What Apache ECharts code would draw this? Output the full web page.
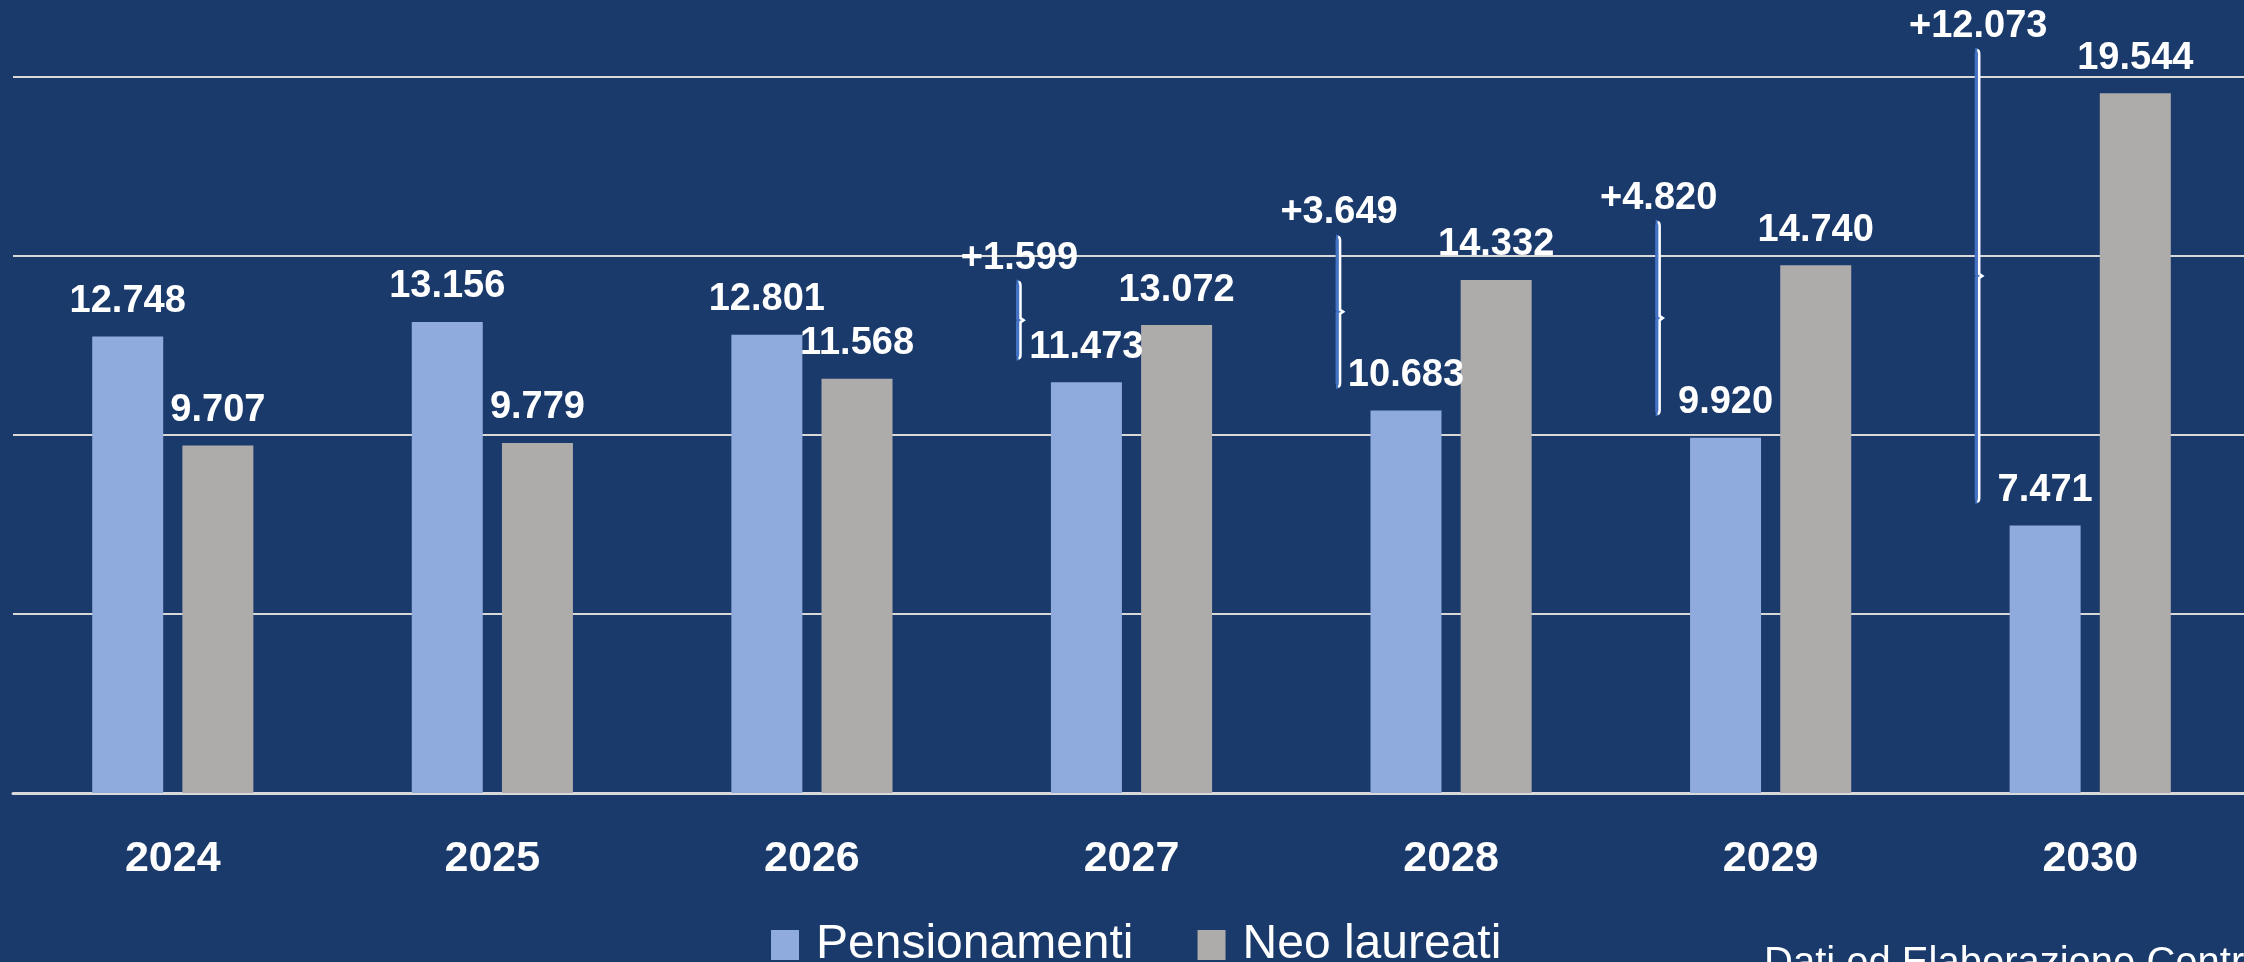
<!DOCTYPE html>
<html>
<head>
<meta charset="utf-8">
<script src="https://cdn.jsdelivr.net/npm/echarts@6/dist/echarts.min.js"></script>
<style>
  html, body { margin: 0; padding: 0; background: #1B3A6C; }
  #chart { width: 2244px; height: 962px; }
</style>
</head>
<body>
<div id="chart"></div>
<script>
const years = ['2024', '2025', '2026', '2027', '2028', '2029', '2030'];
const pensionamenti = [12748, 13156, 12801, 11473, 10683, 9920, 7471];
const neoLaureati = [9707, 9779, 11568, 13072, 14332, 14740, 19544];
// years that get the difference bracket
const bracketYears = ['2027', '2028', '2029', '2030'];
const source = 'Dati ed Elaborazione Centro';

const FONT = '"Liberation Sans", Arial, sans-serif';

function fmt(v) {
  return String(v).replace(/\B(?=(\d{3})+(?!\d))/g, '.');
}

const bracketData = bracketYears.map((y) => {
  const i = years.indexOf(y);
  return [i, pensionamenti[i], neoLaureati[i], neoLaureati[i] - pensionamenti[i]];
});

function renderBracket(params, api) {
  const idx = api.value(0);
  const hi = api.coord([idx, api.value(2)]);
  const lo = api.coord([idx, api.value(1)]);
  const x = hi[0] - 112;
  const top = hi[1] - 43;
  const bot = lo[1] - 24;
  const mid = (top + bot) / 2;
  const d = `M${x - 2},${top} Q${x},${top} ${x},${top + 4} L${x},${mid - 2} L${x + 3},${mid} L${x},${mid + 2} L${x},${bot - 4} Q${x},${bot} ${x - 2},${bot}`;
  return {
    type: 'group',
    children: [
      { type: 'path', shape: { pathData: d }, position: [-1, 0], style: { fill: null, stroke: '#4472C4', lineWidth: 5 } },
      { type: 'path', shape: { pathData: d }, position: [1, 0], style: { fill: null, stroke: '#FFFFFF', lineWidth: 2.5 } },
      {
        type: 'text',
        style: {
          x: x, y: top - 5,
          text: '+' + fmt(api.value(3)),
          align: 'center', verticalAlign: 'bottom',
          fill: '#FFFFFF', font: `bold 38px ${FONT}`,
        },
      },
    ],
  };
}

const barLabel = {
  show: true,
  position: 'top',
  distance: 16,
  color: '#FFFFFF',
  fontSize: 38,
  fontWeight: 'bold',
  fontFamily: FONT,
  formatter: (p) => fmt(p.value),
};

const chart = echarts.init(document.getElementById('chart'));
chart.setOption({
  backgroundColor: '#1B3A6C',
  animation: false,
  grid: { left: 13, right: -6, top: 77, bottom: 169, containLabel: false, outerBoundsMode: 'none' },
  legend: {
    data: ['Pensionamenti', 'Neo laureati'],
    left: 766,
    top: 916,
    icon: 'rect',
    itemWidth: 28,
    itemHeight: 30,
    itemGap: 64,
    textStyle: { color: '#FFFFFF', fontSize: 48, fontFamily: FONT, padding: [0, 0, 0, 12] },
  },
  xAxis: {
    type: 'category',
    data: years,
    axisLine: { lineStyle: { color: '#D9D9D9', width: 3 } },
    axisTick: { show: false },
    axisLabel: { color: '#FFFFFF', fontSize: 43, fontWeight: 'bold', fontFamily: FONT, margin: 45 },
  },
  yAxis: {
    type: 'value',
    min: 0,
    max: 20000,
    interval: 5000,
    axisLabel: { show: false },
    axisLine: { show: false },
    axisTick: { show: false },
    splitLine: { lineStyle: { color: '#D9D9D9', width: 2 } },
  },
  graphic: [
    {
      type: 'text',
      left: 1764,
      top: 944,
      style: { text: source, fill: '#FFFFFF', font: `40px ${FONT}` },
    },
  ],
  series: [
    {
      name: 'Pensionamenti',
      type: 'bar',
      data: pensionamenti,
      barWidth: 71,
      barGap: '27%',
      itemStyle: { color: '#8FAADC' },
      label: barLabel,
    },
    {
      name: 'Neo laureati',
      type: 'bar',
      data: neoLaureati,
      barWidth: 71,
      barGap: '27%',
      itemStyle: { color: '#AEABAB' },
      label: barLabel,
    },
    {
      type: 'custom',
      renderItem: renderBracket,
      data: bracketData,
      z: 5,
      silent: true,
    },
  ],
});
</script>
</body>
</html>
